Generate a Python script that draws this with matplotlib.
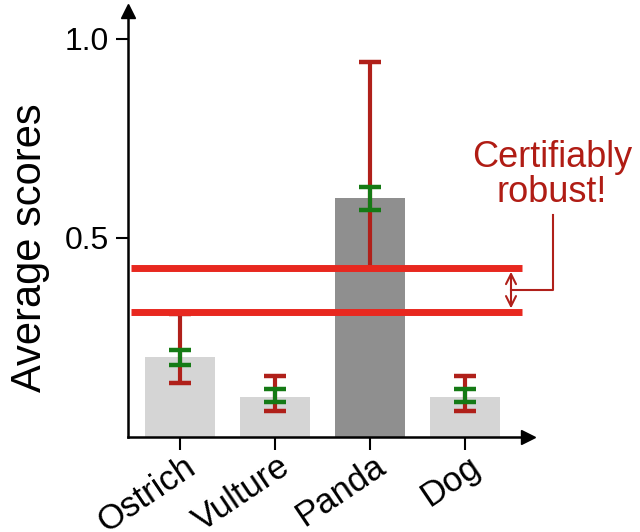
import matplotlib
matplotlib.use("Agg")
import matplotlib.pyplot as plt
import numpy as np
from matplotlib.transforms import ScaledTranslation

plt.rcParams['font.family'] = ['Liberation Sans', 'DejaVu Sans']

categories = ["Ostrich", "Vulture", "Panda", "Dog"]
scores = [0.20, 0.10, 0.60, 0.10]
red_low = [0.135, 0.066, 0.425, 0.066]
red_high = [0.31, 0.154, 0.941, 0.154]
green_low = [0.181, 0.089, 0.569, 0.089]
green_high = [0.219, 0.12, 0.629, 0.12]
threshold_lines = [0.425, 0.313]
ytick_vals = [0.5, 1.0]
ytick_labels = ["0.5", "1.0"]
bar_colors = ["#d5d5d5", "#d5d5d5", "#8f8f8f", "#d5d5d5"]

fig = plt.figure(figsize=(6.4, 5.32), dpi=100)
ax = fig.add_axes([128/640, (532-437)/532, 400/640, 426/532])

x = np.arange(len(categories))
ax.bar(x, scores, width=0.74, color=bar_colors, zorder=1)

rl, rh = np.array(red_low), np.array(red_high)
gl, gh = np.array(green_low), np.array(green_high)
mid_r = (rl + rh) / 2
mid_g = (gl + gh) / 2
ax.errorbar(x, mid_r, yerr=(rh - rl) / 2, fmt='none', ecolor='#b0201a',
            elinewidth=3, capsize=8, capthick=3.2, zorder=2)
ax.errorbar(x, mid_g, yerr=(gh - gl) / 2, fmt='none', ecolor='#157a15',
            elinewidth=3, capsize=8, capthick=3.2, zorder=3)

for yv in threshold_lines:
    ax.axhline(yv, xmin=0.008, xmax=0.985, color='#e8281f', lw=5, zorder=4,
               solid_capstyle='butt')

ax.set_xlim(-0.547, 3.663)
ax.set_ylim(0, 1.07)
ax.set_yticks(ytick_vals)
ax.set_yticklabels(ytick_labels, fontsize=23)
ax.tick_params(axis='both', length=9, width=1.5)
ax.tick_params(axis='y', pad=5)
ax.set_xticks(x)
ax.set_xticklabels(categories, rotation=34, ha='right', va='center',
                   rotation_mode='anchor', fontsize=25)
offset = ScaledTranslation(12/100, -9/100, fig.dpi_scale_trans)
for tick in ax.xaxis.get_major_ticks():
    tick.label1.set_transform(tick.label1.get_transform() + offset)

for sp in ['top', 'right']:
    ax.spines[sp].set_visible(False)
for sp in ['left', 'bottom']:
    ax.spines[sp].set_linewidth(1.8)

ax.plot(1, 0, marker='>', color='k', markersize=10, transform=ax.transAxes,
        clip_on=False)
ax.plot(0, 1, marker='^', color='k', markersize=10, transform=ax.transAxes,
        clip_on=False)

# double arrow and bracket
trans = ax.get_yaxis_transform()
ax.annotate('', xy=(0.9575, threshold_lines[0] - 0.01), xytext=(0.9575, threshold_lines[1] + 0.01),
            xycoords=trans, textcoords=trans,
            arrowprops=dict(arrowstyle='<->', color='#b0201a', lw=1.5,
                            mutation_scale=18, shrinkA=0, shrinkB=0))
ymid = (threshold_lines[0] + threshold_lines[1]) / 2
ax.plot([0.9575, 1.0625, 1.0625], [ymid, ymid, 0.558], color='#b0201a', lw=1.5,
        transform=trans, clip_on=False)

fig.text(552/640, (532-175)/532, "Certifiably\nrobust!", ha='center', va='center',
         fontsize=26, color='#b01c14', linespacing=1.0)

fig.text(30/640, (532-248)/532, "Average scores", rotation=90, ha='center',
         va='center', fontsize=30)

fig.savefig("out.png", dpi=100)
